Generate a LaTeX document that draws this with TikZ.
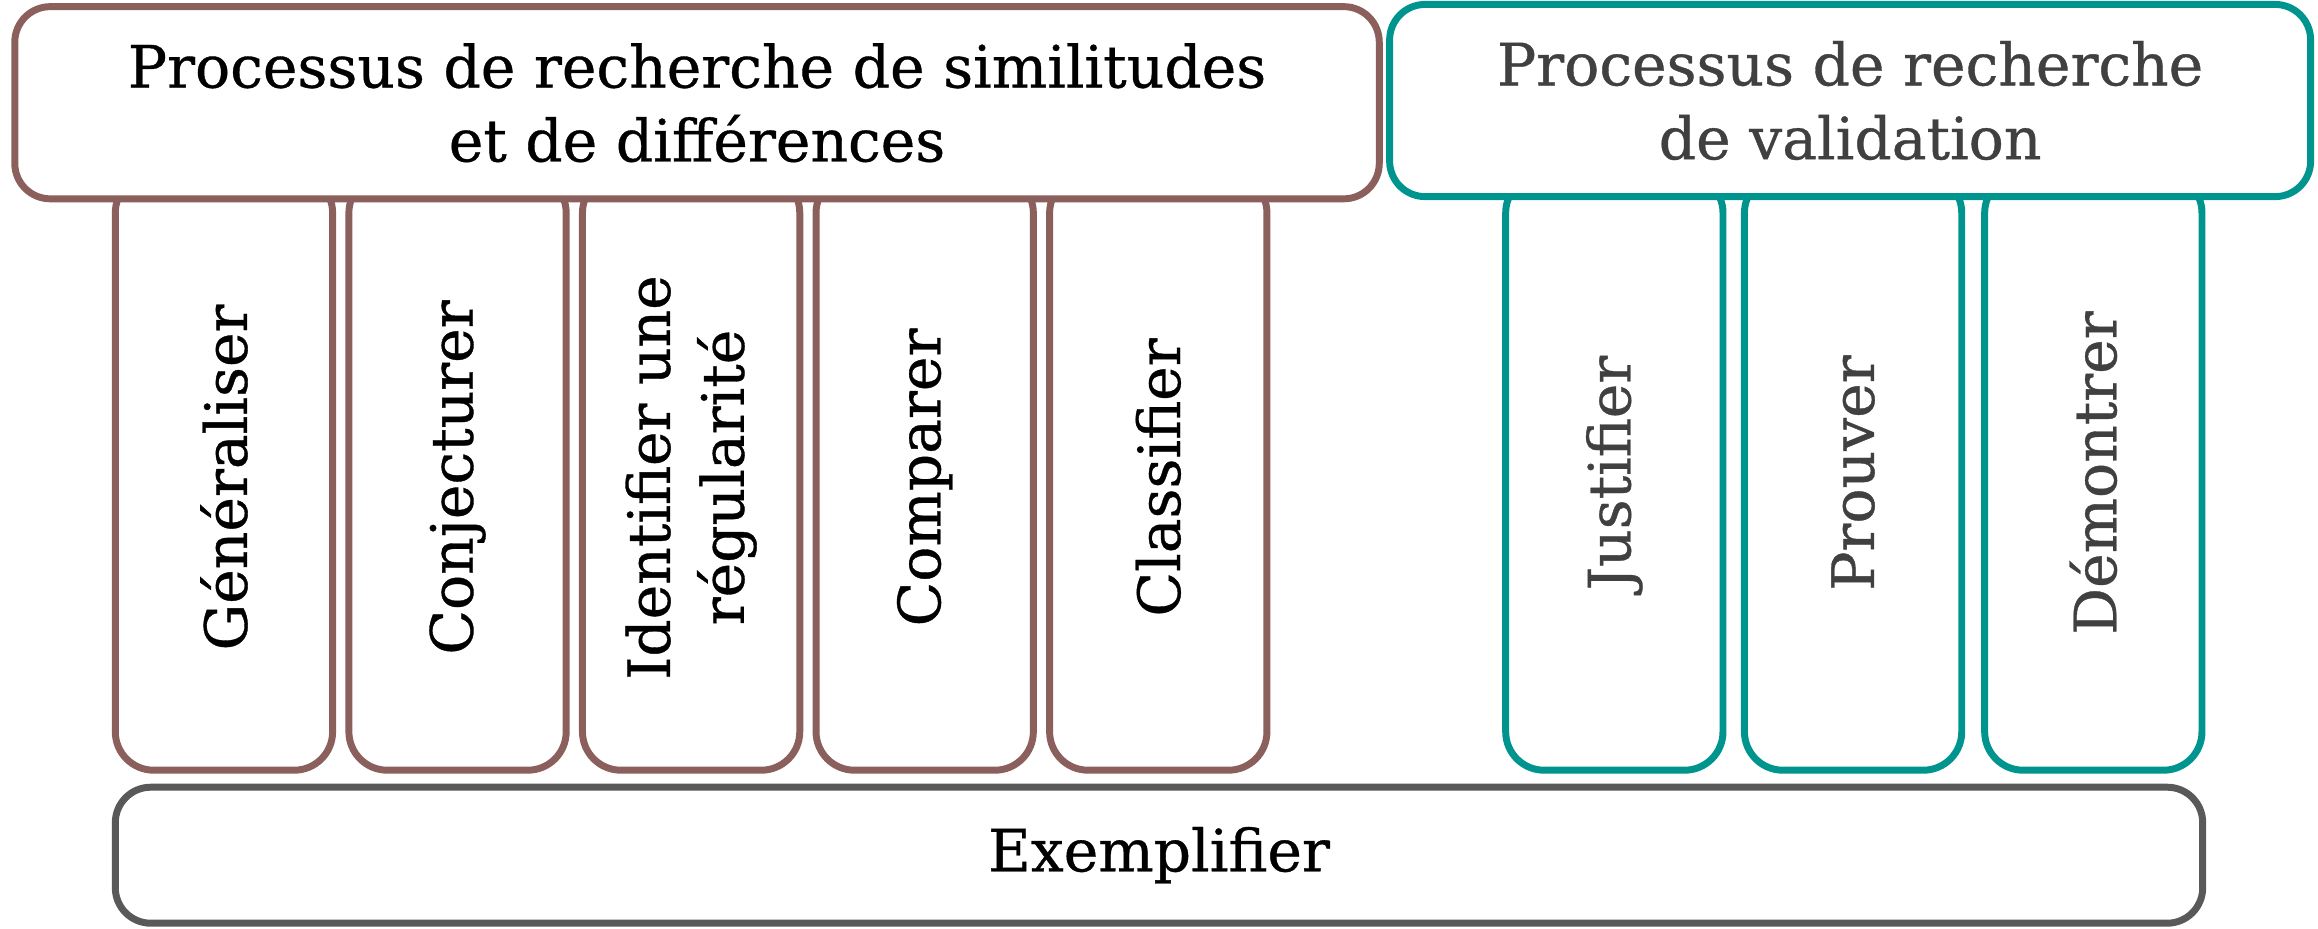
\documentclass[tikz,border=0pt]{standalone}
\usepackage{fontspec}
\setmainfont{DejaVu Serif}[FakeBold=0.6]
\definecolor{brownc}{HTML}{8B5F5C}
\definecolor{tealc}{HTML}{00948F}
\definecolor{greyc}{HTML}{595959}
\definecolor{txtgrey}{HTML}{404040}
\tikzset{
  box/.style={draw, line width=4.7pt, fill=white, inner sep=0pt},
  topbox/.style={box, rounded corners=24pt},
  colbox/.style={box, rounded corners=26pt, minimum width=147pt, minimum height=403pt},
  lbl/.style={font=\fontsize{39.5}{50}\selectfont, align=center, inner sep=0pt},
  vlbl/.style={lbl, rotate=90},
}
\begin{document}
\begin{tikzpicture}[x=1pt,y=-1pt]
\useasboundingbox (0,0) rectangle (1568,628);
% brown columns
\node[colbox, draw=brownc] (b1) at (151.5,319.5) {};
\node[colbox, draw=brownc] (b2) at (309.5,319.5) {};
\node[colbox, draw=brownc] (b3) at (467.5,319.5) {};
\node[colbox, draw=brownc] (b4) at (625.5,319.5) {};
\node[colbox, draw=brownc] (b5) at (783.5,319.5) {};
% teal columns
\node[colbox, draw=tealc] (t1) at (1092,319.5) {};
\node[colbox, draw=tealc] (t2) at (1253.5,319.5) {};
\node[colbox, draw=tealc] (t3) at (1416,319.5) {};
% top boxes
\node[topbox, draw=brownc, minimum width=923pt, minimum height=130pt] (top1) at (471.5,69.5) {};
\node[topbox, draw=tealc, minimum width=623pt, minimum height=130pt] (top2) at (1251.5,68) {};
% bottom box
\node[topbox, draw=greyc, minimum width=1412pt, minimum height=92pt] (ex) at (784,578.5) {};
% labels
\node[lbl] (top1l) at (top1.center) {Processus de recherche de similitudes\\et de différences};
\node[lbl, text=txtgrey] (top2l) at (top2.center) {Processus de recherche\\de validation};
\node[lbl] (exl) at (ex.center) {Exemplifier};
\node[vlbl] (b1l) at (151.5,323) {Généraliser};
\node[vlbl] (b2l) at (309.5,323) {Conjecturer};
\node[vlbl] (b3l) at (467.5,323) {Identifier une\\régularité};
\node[vlbl] (b4l) at (625.5,323) {Comparer};
\node[vlbl] (b5l) at (783.5,323) {Classifier};
\node[vlbl, text=txtgrey] (t1l) at (1092,320) {Justifier};
\node[vlbl, text=txtgrey] (t2l) at (1253.5,320) {Prouver};
\node[vlbl, text=txtgrey] (t3l) at (1416,320) {Démontrer};
\end{tikzpicture}
\end{document}
